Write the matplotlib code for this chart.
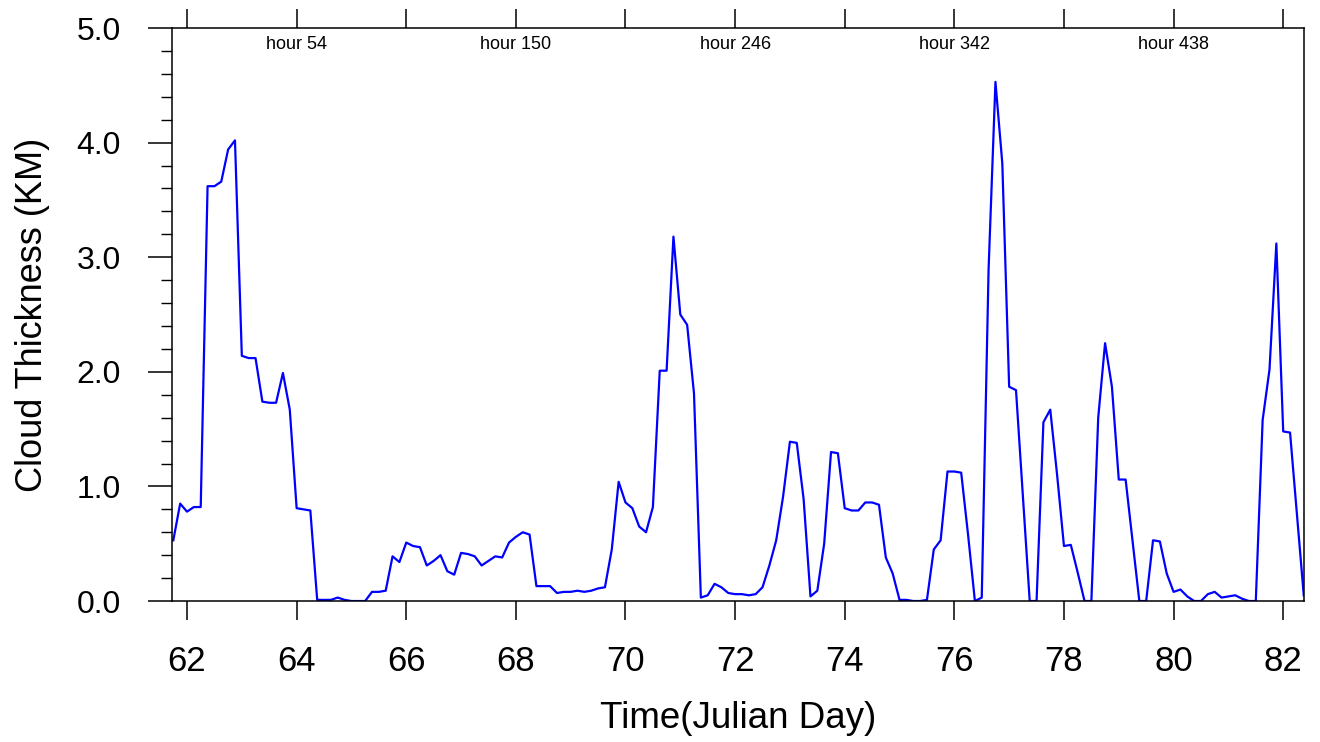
import matplotlib
matplotlib.use("Agg")
import matplotlib.pyplot as plt
import numpy as np
from matplotlib.ticker import MultipleLocator

# 3-hourly cloud thickness (km), first sample at hour 0 = day 61.75
start_day = 61.75
step_hours = 3
thickness = [
    0.53, 0.85, 0.78, 0.82, 0.82, 3.62, 3.62, 3.66, 3.94, 4.02,
    2.14, 2.12, 2.12, 1.74, 1.73, 1.73, 1.99, 1.67, 0.81, 0.80,
    0.79, 0.01, 0.01, 0.01, 0.03, 0.01, 0.00, 0.00, 0.00, 0.08,
    0.08, 0.09, 0.39, 0.34, 0.51, 0.48, 0.47, 0.31, 0.35, 0.40,
    0.26, 0.23, 0.42, 0.41, 0.39, 0.31, 0.35, 0.39, 0.38, 0.51,
    0.56, 0.60, 0.58, 0.13, 0.13, 0.13, 0.07, 0.08, 0.08, 0.09,
    0.08, 0.09, 0.11, 0.12, 0.45, 1.04, 0.86, 0.81, 0.65, 0.60,
    0.82, 2.01, 2.01, 3.18, 2.50, 2.41, 1.81, 0.03, 0.05, 0.15,
    0.12, 0.07, 0.06, 0.06, 0.05, 0.06, 0.12, 0.31, 0.53, 0.91,
    1.39, 1.38, 0.89, 0.04, 0.09, 0.50, 1.30, 1.29, 0.81, 0.79,
    0.79, 0.86, 0.86, 0.84, 0.38, 0.24, 0.01, 0.01, 0.00, 0.00,
    0.01, 0.45, 0.53, 1.13, 1.13, 1.12, 0.58, 0.00, 0.03, 2.90,
    4.53, 3.82, 1.87, 1.84, 0.92, 0.00, 0.00, 1.56, 1.67, 1.10,
    0.48, 0.49, 0.25, 0.00, 0.00, 1.60, 2.25, 1.87, 1.06, 1.06,
    0.53, 0.00, 0.00, 0.53, 0.52, 0.24, 0.08, 0.10, 0.04, 0.00,
    0.00, 0.06, 0.08, 0.03, 0.04, 0.05, 0.02, 0.00, 0.00, 1.58,
    2.02, 3.12, 1.48, 1.47, 0.76, 0.05,
]

bottom_ticks = [62, 64, 66, 68, 70, 72, 74, 76, 78, 80, 82]
hour_marks = [54, 150, 246, 342, 438]

days = start_day + np.arange(len(thickness)) * step_hours / 24.0

plt.rcParams["font.family"] = "Liberation Sans"

fig = plt.figure(figsize=(13.2, 7.42), dpi=100)
ax = fig.add_axes([0.1303, 0.19, 0.8576, 0.7722])

ax.plot(days, thickness, color="#0000ff", lw=1.6)

ax.set_xlim(61.726, 82.38)
ax.set_ylim(0, 5)

# bottom / left ticks point outward, top axis carries the same day ticks
ax.set_xticks(bottom_ticks)
ax.set_xticklabels([str(t) for t in bottom_ticks], fontsize=25)
ax.set_yticks(np.arange(0, 5.01, 1.0))
ax.set_yticklabels(["%.1f" % v for v in np.arange(0, 5.01, 1.0)], fontsize=23)
ax.yaxis.set_minor_locator(MultipleLocator(0.2))

ax.tick_params(axis="x", which="major", direction="out", length=14, width=1.1,
               top=True, labeltop=False, pad=18)
ax.tick_params(axis="y", which="major", direction="out", length=17, width=1.1, pad=20)
ax.tick_params(axis="y", which="minor", direction="out", length=8, width=1.0)

for s in ax.spines.values():
    s.set_linewidth(1.1)

# hour annotations just inside the top edge
for h in hour_marks:
    ax.text(start_day + h / 24.0, 0.972, "hour %d" % h, transform=ax.get_xaxis_transform(),
            ha="center", va="center", fontsize=13)

ax.set_xlabel("Time(Julian Day)", fontsize=26.5, labelpad=16)
ax.set_ylabel("Cloud Thickness (KM)", fontsize=26, labelpad=19)

fig.savefig("out.png", dpi=100)
